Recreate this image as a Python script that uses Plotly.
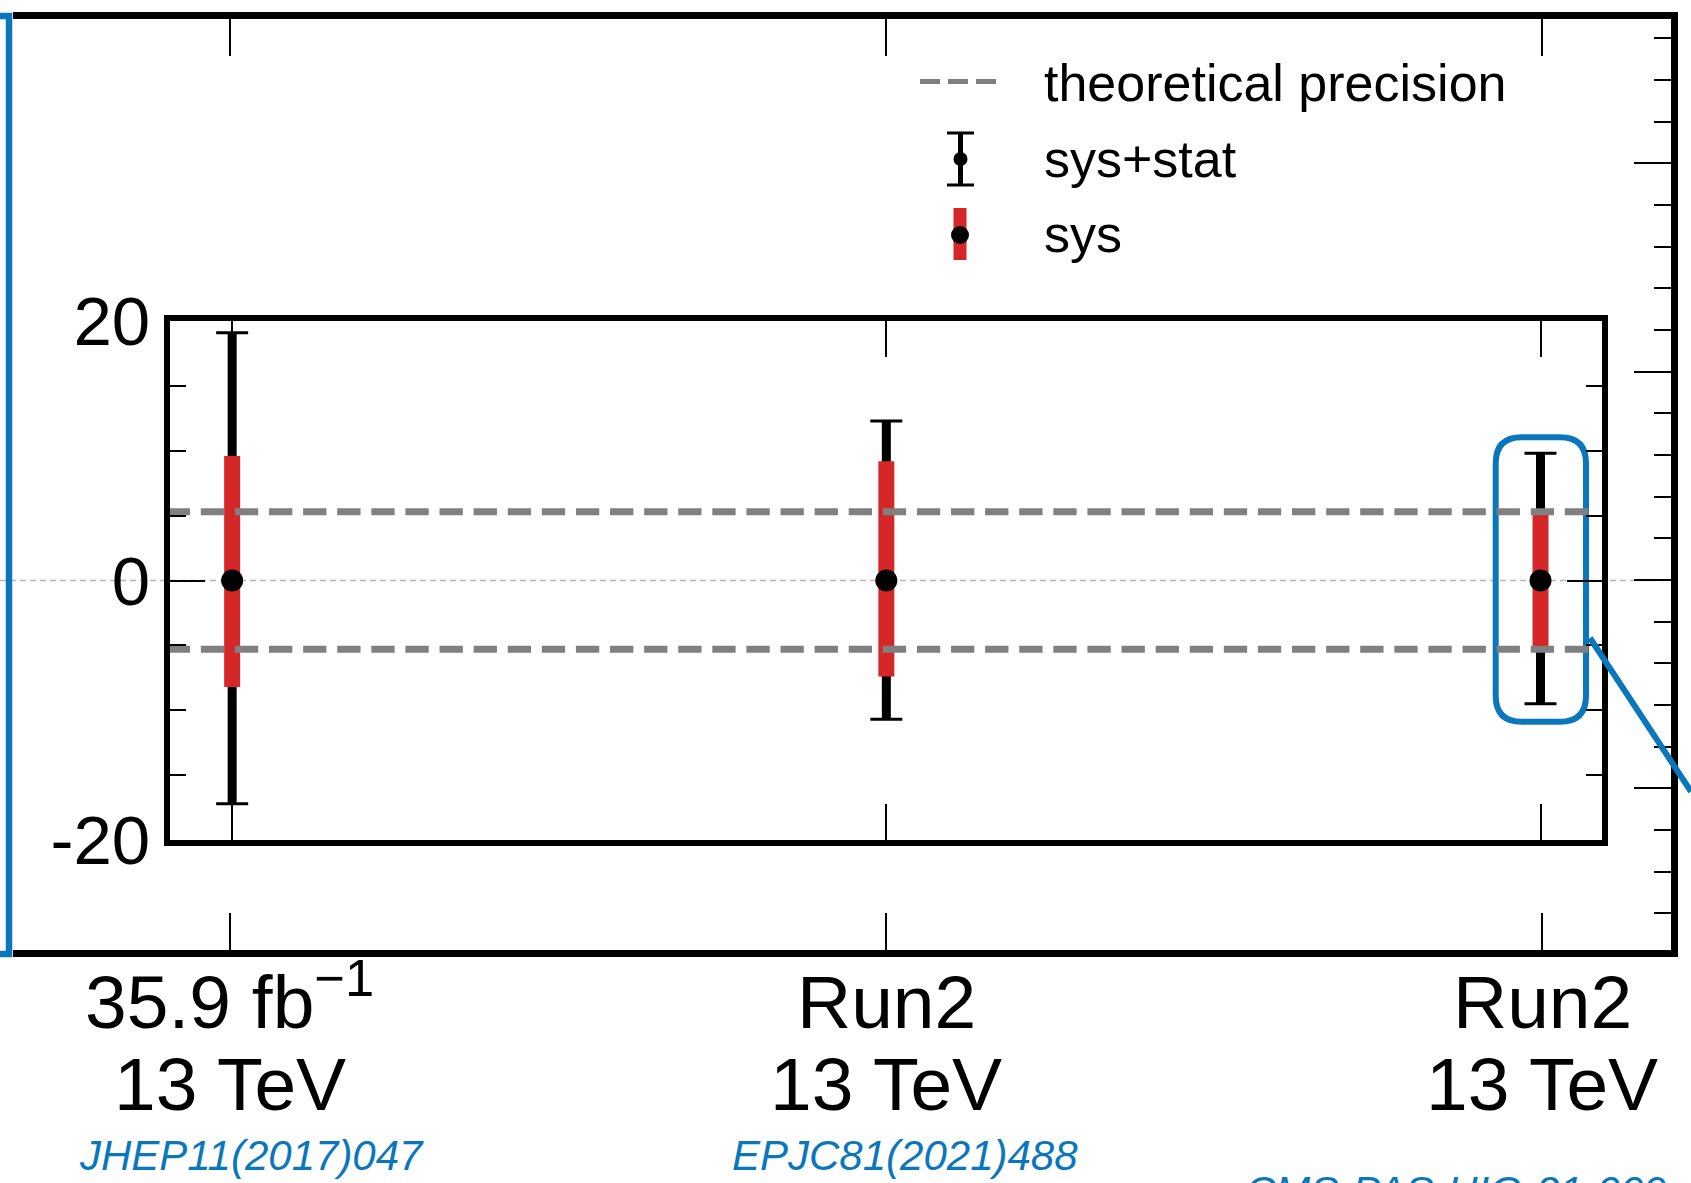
import plotly.graph_objects as go

W, H = 1691, 1183

# ---- measurements -------------------------------------------------------
x_pos = [0, 1, 2]
lumi_labels = ["35.9 fb<sup>−1</sup>", "Run2", "Run2"]
energy_labels = ["13 TeV", "13 TeV", "13 TeV"]
ref_labels = ["JHEP11(2017)047", "EPJC81(2021)488", "CMS-PAS-HIG-21-009"]

# relative deviation from the prediction (%) with its uncertainties
central = [0.0, 0.0, 0.0]
tot_up = [19.1, 12.3, 9.8]     # sys+stat, upward
tot_dn = [17.2, 10.7, 9.5]     # sys+stat, downward
sys_up = [9.6, 9.2, 5.5]       # sys only, upward
sys_dn = [8.2, 7.4, 5.1]       # sys only, downward
theory_precision = 5.3         # +- band of the theoretical prediction

y_tickvals = [-20, 0, 20]
y_ticktext = ["-20", "0", "20"]

legend_labels = ["theoretical precision", "sys+stat", "sys"]

# ---- styling -------------------------------------------------------------
FONT = "Liberation Sans, Arial, Helvetica, sans-serif"
BLUE = "#0a77bd"
RED = "#d62728"
GREY = "#808080"

X_RANGE = [-0.095, 2.094]
X2_RANGE = [-0.331, 2.1953]
Y2_RANGE = [-1.7739, 2.6956]
X2_DOM = [12.5, 1670.5]        # pixel extent of the outer frame
Y2_DOM = [18.5, 949.5]


def px(x):
    return x / W


def py(y):
    return 1 - y / H


def segments(xs, lo, hi):
    """Vertical segments (x, lo)->(x, hi) joined with gaps."""
    sx, sy = [], []
    for x, a, b in zip(xs, lo, hi):
        sx += [x, x, None]
        sy += [a, b, None]
    return sx, sy


tot_lo = [c - d for c, d in zip(central, tot_dn)]
tot_hi = [c + u for c, u in zip(central, tot_up)]
sys_lo = [c - d for c, d in zip(central, sys_dn)]
sys_hi = [c + u for c, u in zip(central, sys_up)]

fig = go.Figure()

# sys+stat: thick bar
bx, by = segments(x_pos, tot_lo, tot_hi)
fig.add_trace(go.Scatter(x=bx, y=by, mode="lines",
                         line=dict(color="black", width=9),
                         hoverinfo="skip", showlegend=False))
# sys+stat: end caps
fig.add_trace(go.Scatter(x=x_pos, y=central, mode="markers",
                         marker=dict(size=1, opacity=0),
                         error_y=dict(type="data", symmetric=False,
                                      array=tot_up, arrayminus=tot_dn,
                                      thickness=3, width=16, color="black"),
                         hoverinfo="skip", showlegend=False))
# sys only
rx, ry = segments(x_pos, sys_lo, sys_hi)
fig.add_trace(go.Scatter(x=rx, y=ry, mode="lines",
                         line=dict(color=RED, width=16),
                         hoverinfo="skip", showlegend=False))
# theoretical precision band edges
t_lo, t_hi = -0.1, 2.078
fig.add_trace(go.Scatter(x=[t_lo, t_hi, None, t_lo, t_hi],
                         y=[theory_precision, theory_precision, None,
                            -theory_precision, -theory_precision],
                         mode="lines",
                         line=dict(color=GREY, width=7, dash="23.3px,10.8px"),
                         hoverinfo="skip", showlegend=False))
# central values
fig.add_trace(go.Scatter(x=x_pos, y=central, mode="markers",
                         marker=dict(size=22, color="black", line=dict(width=0)),
                         hoverinfo="skip", showlegend=False))

# ---- axes ----------------------------------------------------------------
fig.update_layout(
    width=W, height=H,
    margin=dict(l=0, r=0, t=0, b=0, autoexpand=False),
    paper_bgcolor="white",
    plot_bgcolor="rgba(0,0,0,0)",
    font=dict(family=FONT, color="black"),
    showlegend=False,
    xaxis=dict(domain=[px(170), px(1602)], range=X_RANGE, anchor="y",
               automargin=False, showgrid=False, zeroline=False,
               showline=True, linewidth=6, linecolor="black", mirror="ticks",
               tickvals=x_pos, ticks="inside", ticklen=36, tickwidth=2,
               tickcolor="black", showticklabels=False),
    yaxis=dict(domain=[py(840), py(321)], range=[-20, 20], anchor="x",
               automargin=False, showgrid=False, zeroline=False,
               showline=True, linewidth=6, linecolor="black", mirror="ticks",
               tickvals=y_tickvals, ticktext=y_ticktext,
               ticks="inside", ticklen=35, tickwidth=2, tickcolor="black",
               ticklabelstandoff=0,
               tickfont=dict(size=69, family=FONT, color="black"),
               minor=dict(dtick=5, tick0=0, ticks="inside", ticklen=16,
                          tickwidth=2, tickcolor="black")),
    xaxis2=dict(domain=[px(X2_DOM[0]), px(X2_DOM[1])], range=X2_RANGE,
                anchor="y2", automargin=False,
                showgrid=False, zeroline=False,
                showline=True, linewidth=7, linecolor="black", mirror="ticks",
                tickvals=x_pos, ticks="inside", ticklen=37, tickwidth=2,
                tickcolor="black", showticklabels=False),
    yaxis2=dict(domain=[py(Y2_DOM[1]), py(Y2_DOM[0])], range=Y2_RANGE,
                anchor="x2", automargin=False,
                side="right", showgrid=False, zeroline=False,
                showline=True, linewidth=7, linecolor="black",
                tickvals=[-1, 0, 1, 2], ticks="inside", ticklen=37,
                tickwidth=2, tickcolor="black", showticklabels=False,
                minor=dict(dtick=0.2, tick0=0, ticks="inside", ticklen=17,
                           tickwidth=2, tickcolor="black")),
)

# ---- guide lines and highlight ------------------------------------------
shapes = []
# thin zero reference running across the whole panel
shapes.append(dict(type="line", xref="paper", yref="y",
                   x0=0, x1=px(1670), y0=0, y1=0, layer="below",
                   line=dict(color="#b8b8b8", width=1.5, dash="6px,4px")))

# bracket on the left edge
shapes.append(dict(type="path", xref="paper", yref="paper", layer="above",
                   path=f"M {px(0)},{py(16)} L {px(9)},{py(16)} "
                        f"L {px(9)},{py(954)} L {px(0)},{py(954)}",
                   line=dict(color=BLUE, width=6.5)))

# rounded box around the latest measurement
L, R, T, B, r = 1495.7, 1586.0, 437.3, 721.7, 26
pts = (f"M {px(L + r)},{py(T)} L {px(R - r)},{py(T)} "
       f"Q {px(R)},{py(T)} {px(R)},{py(T + r)} L {px(R)},{py(B - r)} "
       f"Q {px(R)},{py(B)} {px(R - r)},{py(B)} L {px(L + r)},{py(B)} "
       f"Q {px(L)},{py(B)} {px(L)},{py(B - r)} L {px(L)},{py(T + r)} "
       f"Q {px(L)},{py(T)} {px(L + r)},{py(T)} Z")
shapes.append(dict(type="path", xref="paper", yref="paper", layer="below",
                   path=pts, line=dict(color=BLUE, width=6)))
# leader line from the box
shapes.append(dict(type="line", xref="paper", yref="paper", layer="above",
                   x0=px(1590), y0=py(638), x1=px(1691), y1=py(791.5),
                   line=dict(color=BLUE, width=6)))

# ---- legend glyphs -------------------------------------------------------
shapes.append(dict(type="line", xref="paper", yref="paper",
                   x0=px(920), x1=px(998), y0=py(81.5), y1=py(81.5),
                   line=dict(color=GREY, width=5, dash="20px,8px")))
# sys+stat glyph
shapes.append(dict(type="line", xref="paper", yref="paper",
                   x0=px(960.5), x1=px(960.5), y0=py(133), y1=py(185),
                   line=dict(color="black", width=5)))
for cy in (133, 185):
    shapes.append(dict(type="line", xref="paper", yref="paper",
                       x0=px(947), x1=px(974), y0=py(cy), y1=py(cy),
                       line=dict(color="black", width=3)))
shapes.append(dict(type="circle", xref="paper", yref="paper",
                   x0=px(960.5 - 7), x1=px(960.5 + 7),
                   y0=py(159 + 7), y1=py(159 - 7),
                   fillcolor="black", line=dict(width=0)))
# sys glyph
shapes.append(dict(type="line", xref="paper", yref="paper",
                   x0=px(960), x1=px(960), y0=py(208), y1=py(260),
                   line=dict(color=RED, width=13)))
shapes.append(dict(type="circle", xref="paper", yref="paper",
                   x0=px(960 - 9), x1=px(960 + 9),
                   y0=py(235 + 9), y1=py(235 - 9),
                   fillcolor="black", line=dict(width=0)))

fig.update_layout(shapes=shapes)

# ---- text ----------------------------------------------------------------
ann = []
for label, yc in zip(legend_labels, (83.3, 158.6, 233.6)):
    ann.append(dict(text=label, xref="paper", yref="paper",
                    x=px(1042), y=py(yc), xanchor="left", yanchor="middle",
                    showarrow=False, font=dict(size=52, family=FONT)))

for i, (lumi, energy) in enumerate(zip(lumi_labels, energy_labels)):
    ann.append(dict(text=lumi, xref="x2", yref="paper", x=x_pos[i],
                    y=py(1046), xanchor="center", yanchor="bottom",
                    showarrow=False, font=dict(size=75, family=FONT)))
    ann.append(dict(text=energy, xref="x2", yref="paper", x=x_pos[i],
                    y=py(1084), xanchor="center", yanchor="middle",
                    showarrow=False, font=dict(size=75, family=FONT)))

# publication references; the last one runs off the lower page edge
ref_anchor = ["center", "center", "left"]
ref_shift = [22, 19, -299]
ref_y = [1155.4, 1155.4, 1191.5]
for i, ref in enumerate(ref_labels):
    ann.append(dict(text=ref, xref="x2", yref="paper", x=x_pos[i],
                    y=py(ref_y[i]), xanchor=ref_anchor[i], yanchor="middle",
                    xshift=ref_shift[i], showarrow=False,
                    font=dict(size=42, family=FONT, color=BLUE,
                              style="italic")))

fig.update_layout(annotations=ann)

fig.write_html("out.html")
